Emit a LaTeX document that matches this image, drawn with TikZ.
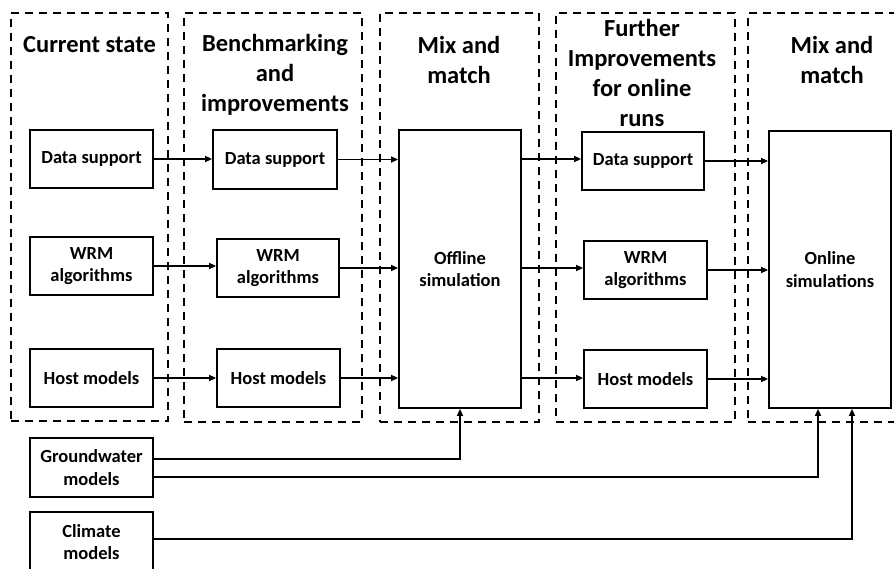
\documentclass[tikz,border=0pt]{standalone}
\usepackage{fontspec}
\setmainfont{Carlito}
\usetikzlibrary{arrows.meta}
\tikzset{
  blk/.style={draw, line width=1.8pt, inner sep=0pt, align=center,
    font=\bfseries\fontsize{18.5}{22.5}\selectfont},
  head/.style={inner sep=0pt, align=center,
    font=\bfseries\fontsize{24.5}{30}\selectfont},
  dbox/.style={draw, line width=2.6pt, dash pattern=on 8pt off 6pt, inner sep=0pt},
  arr/.style={line width=1.6pt, -{Triangle[length=7pt,width=6pt]}},
}
\begin{document}
\begin{tikzpicture}[x=1pt,y=-1pt]
\useasboundingbox (0,0) rectangle (894,569);
\fill[white] (0,0) rectangle (894,569);
\clip (0,0) rectangle (894,569);

% dashed stage regions
\node[dbox, minimum width=157, minimum height=408] (r1) at (89.5,217) {};
\node[dbox, minimum width=178, minimum height=409] (r2) at (273,217.5) {};
\node[dbox, minimum width=159, minimum height=409] (r3) at (459.5,217.5) {};
\node[dbox, minimum width=179, minimum height=409] (r4) at (645.5,217.5) {};
\node[dbox, minimum width=157, minimum height=409] (r5) at (826.5,217.5) {};

% headings
\node[head] (h1) at (89.5,45) {Current state};
\node[head] (h2) at (275,75) {Benchmarking\\and\\improvements};
\node[head] (h3) at (459,60) {Mix and\\match};
\node[head] (h4) at (642,72.5) {Further\\Improvements\\for online\\runs};
\node[head] (h5) at (832,60) {Mix and\\match};

% boxes
\node[blk, minimum width=123, minimum height=58] (ds1) at (91.5,159) {Data support};
\node[blk, minimum width=123, minimum height=58] (wrm1) at (91.5,266) {WRM\\algorithms};
\node[blk, minimum width=123, minimum height=58] (host1) at (91.5,378) {Host models};
\node[blk, minimum width=124, minimum height=59] (ds2) at (275,159.5) {Data support};
\node[blk, minimum width=122, minimum height=58] (wrm2) at (278,268) {WRM\\algorithms};
\node[blk, minimum width=123, minimum height=58] (host2) at (278.5,378) {Host models};
\node[blk, minimum width=122, minimum height=278] (off) at (460,269) {Offline\\simulation};
\node[blk, minimum width=122, minimum height=58] (ds3) at (643,161) {Data support};
\node[blk, minimum width=123, minimum height=58] (wrm3) at (645.5,270) {WRM\\algorithms};
\node[blk, minimum width=123, minimum height=58] (host3) at (645.5,379) {Host models};
\node[blk, minimum width=122, minimum height=277] (on) at (830,269.5) {Online\\simulations};
\node[blk, minimum width=123, minimum height=59] (gw) at (91.5,467.5) {Groundwater\\models};
\node[blk, minimum width=123, minimum height=60] (cl) at (91.5,542) {Climate\\models};

% row connectors
\draw[arr] (ds1.east) -- (ds1.east -| ds2.west);
\draw[arr] (wrm1.east) -- (wrm1.east -| wrm2.west);
\draw[arr] (host1.east) -- (host1.east -| host2.west);
\draw[arr] (ds2.east) -- (ds2.east -| off.west);
\draw[arr] (wrm2.east) -- (wrm2.east -| off.west);
\draw[arr] (host2.east) -- (host2.east -| off.west);
\draw[arr] (off.east |- ds1.east) -- (ds1.east -| ds3.west);
\draw[arr] (off.east |- wrm2.east) -- (wrm2.east -| wrm3.west);
\draw[arr] (off.east |- host1.east) -- (host1.east -| host3.west);
\draw[arr] (ds3.east) -- (ds3.east -| on.west);
\draw[arr] (wrm3.east) -- (wrm3.east -| on.west);
\draw[arr] (host3.east) -- (host3.east -| on.west);

% external model connectors
\draw[arr] ([yshift=8.5pt]gw.east) -| (off.south);
\draw[arr] ([yshift=-9.5pt]gw.east) -| ([xshift=-12pt]on.south);
\draw[arr] ([yshift=3pt]cl.east) -| ([xshift=22pt]on.south);
\end{tikzpicture}
\end{document}
